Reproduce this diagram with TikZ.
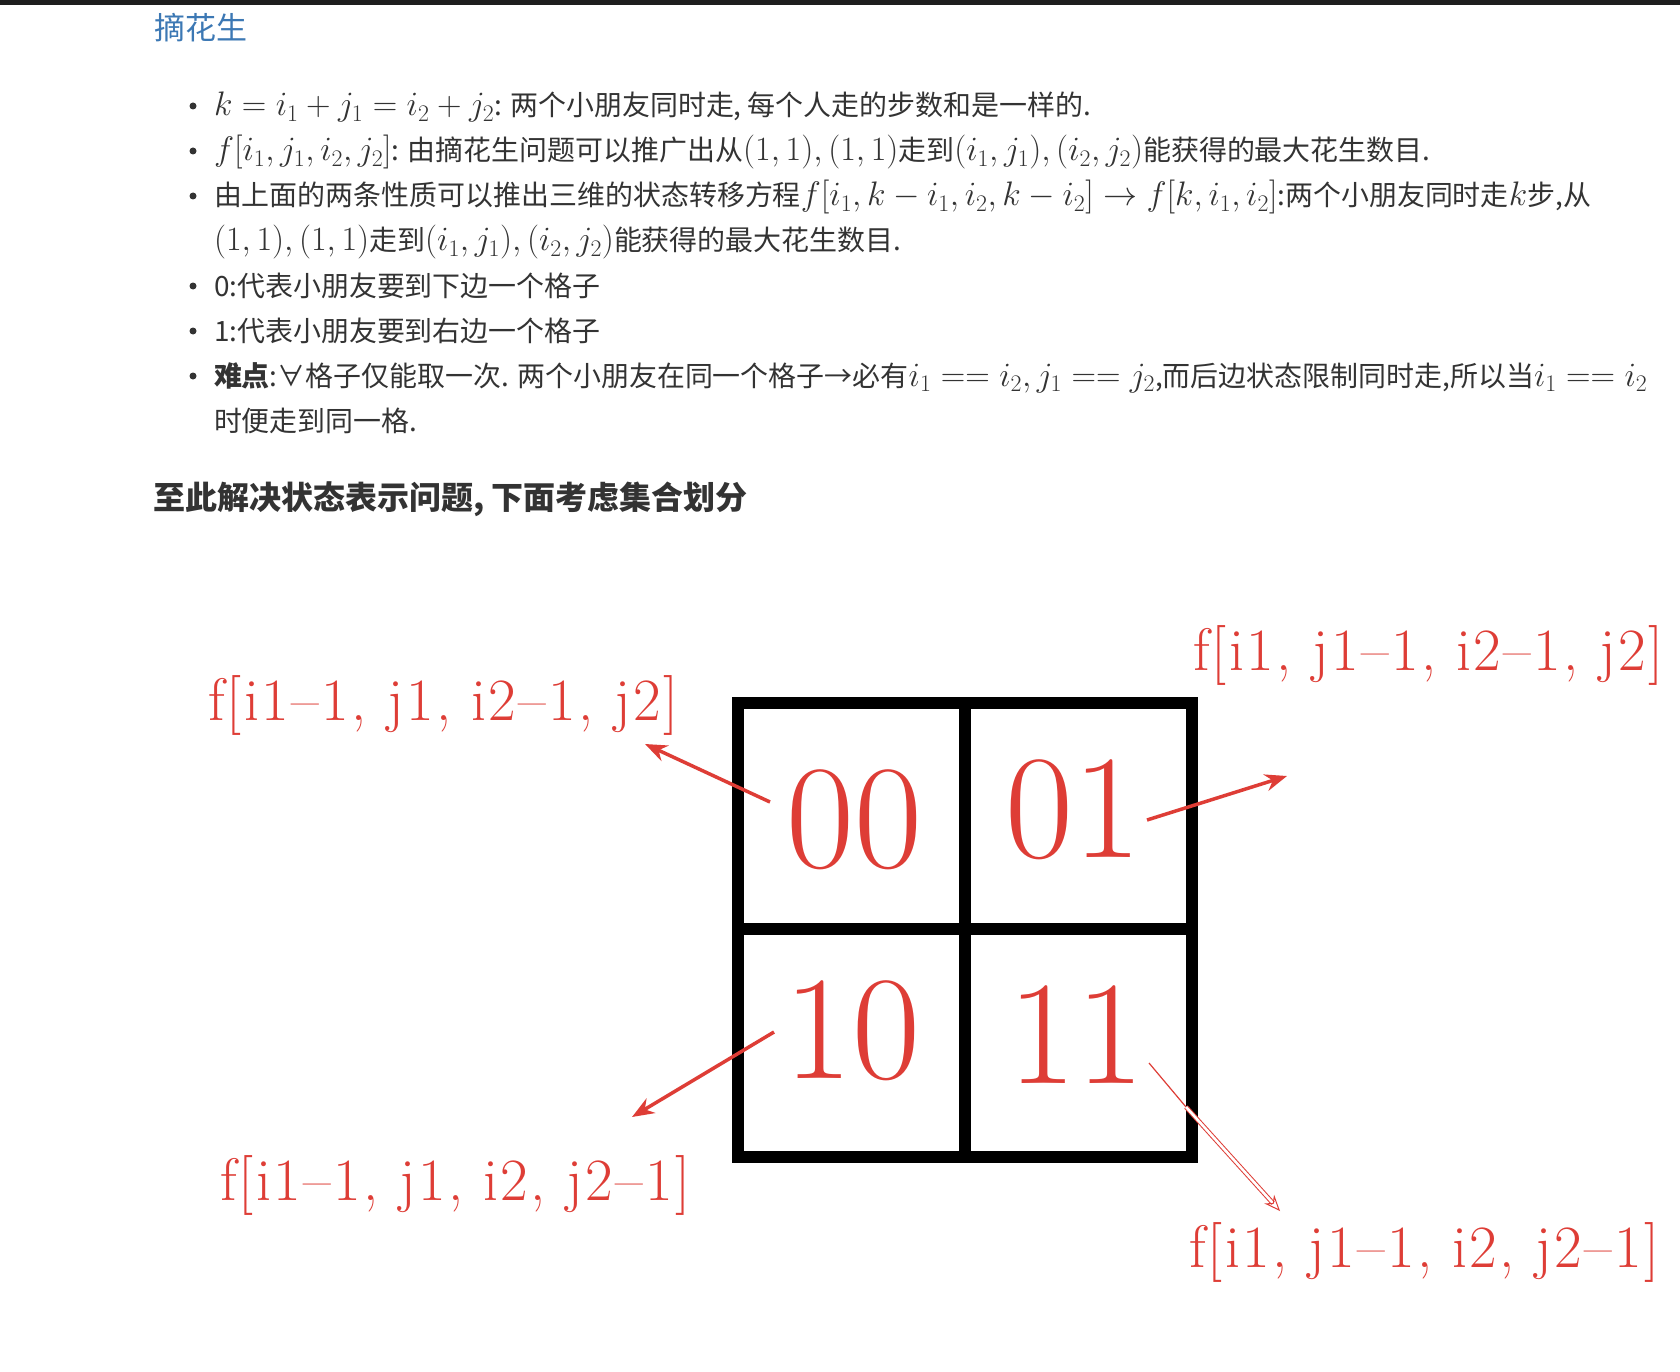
\RequirePackage{fix-cm}
\documentclass[tikz,border=0pt]{standalone}
\usepackage[no-math]{fontspec}
\newfontfamily\cjk[Scale=0.822]{Noto Sans CJK SC}
\newfontfamily\cjkn{Noto Sans CJK SC}
\newfontfamily\lblfont{lmroman17-regular}[Extension=.otf,LetterSpace=4]
\usetikzlibrary{arrows.meta}
\definecolor{txt}{HTML}{333333}
\definecolor{ttl}{HTML}{3C78B4}
\definecolor{rd}{HTML}{DE3D36}
\definecolor{barcol}{HTML}{1E1E1E}
\begin{document}
\begin{tikzpicture}[x=1pt,y=-1pt,every node/.style={inner sep=0pt,outer sep=0pt},
  body/.style={anchor=base west,text=txt,font=\fontsize{34}{34}\selectfont\cjk},
  bul/.style={circle,fill=txt,minimum size=7pt},
  lbl/.style={anchor=base west,text=rd,font=\fontsize{60}{60}\selectfont\lblfont},
  cellnum/.style={text=rd,font=\fontsize{148}{148}\selectfont},
  gridline/.style={line width=12pt,line cap=rect},
  redarrow/.style={draw=rd,line width=3.5pt,-{Stealth[length=22pt,width=17pt]}},
  thinline/.style={draw=rd,line width=1.2pt},
  hollowarrow/.style={draw=rd,line width=1pt,double=white,double distance=2.6pt,-{Stealth[open,length=16pt,width=13pt]}}]
\useasboundingbox[fill=white] (0,0) rectangle (1680,1372);
\fill[barcol] (0,0) rectangle (1680,5);
\node[anchor=base west,text=ttl,font=\fontsize{31}{31}\selectfont\cjkn] (title) at (154,40) {摘花生};
% bullets
\node[bul] (b1) at (193,106) {};
\node[bul] (b2) at (193,151) {};
\node[bul] (b3) at (193,196) {};
\node[bul] (b4) at (193,286) {};
\node[bul] (b5) at (193,331) {};
\node[bul] (b6) at (193,376) {};
% lines
\node[body] (t1) at (214,116) {$k = i_1 + j_1 = i_2 + j_2$: 两个小朋友同时走, 每个人走的步数和是一样的.};
\node[body] (t2) at (214,161) {$f[i_1,j_1,i_2,j_2]$: 由摘花生问题可以推广出从$(1,1),(1,1)$走到$(i_1,j_1),(i_2,j_2)$能获得的最大花生数目.};
\node[body] (t3) at (214,206) {由上面的两条性质可以推出三维的状态转移方程$f[i_1,k-i_1,i_2,k-i_2]\rightarrow f[k,i_1,i_2]$:两个小朋友同时走$k$步,从};
\node[body] (t3b) at (214,251) {$(1,1),(1,1)$走到$(i_1,j_1),(i_2,j_2)$能获得的最大花生数目.};
\node[body] (t4) at (214,296) {0:代表小朋友要到下边一个格子};
\node[body] (t5) at (214,341) {1:代表小朋友要到右边一个格子};
\node[body] (t6) at (214,386) {{\bfseries 难点}:∀格子仅能取一次. 两个小朋友在同一个格子→必有$i_1 == i_2,j_1 == j_2$,而后边状态限制同时走,所以当$i_1 == i_2$};
\node[body] (t6b) at (214,431) {时便走到同一格.};
\node[anchor=base west,text=txt,font=\fontsize{32}{32}\selectfont\cjkn\bfseries] (head) at (153,509) {至此解决状态表示问题, 下面考虑集合划分};
% grid
\draw[gridline] (737.5,702.5) rectangle (1192,1157);
\draw[gridline] (964.5,702.5) -- (964.5,1157);
\draw[gridline] (737.5,929) -- (1192,929);
% cell numbers
\node[cellnum] (n00) at (854,820) {00};
\node[cellnum] (n01) at (1073,810) {01};
\node[cellnum] (n10) at (852,1031) {10};
\node[cellnum] (n11) at (1076,1035) {11};
% labels
\node[lbl] (l00) at (208,720) {f[i1–1, j1, i2–1, j2]};
\node[lbl] (l01) at (1193,670) {f[i1, j1–1, i2–1, j2]};
\node[lbl] (l10) at (220,1200) {f[i1–1, j1, i2, j2–1]};
\node[lbl] (l11) at (1189,1267) {f[i1, j1–1, i2, j2–1]};
% arrows
\coordinate (s00) at (770,802);  \coordinate (e00) at (645,744);
\coordinate (s01) at (1147,820); \coordinate (e01) at (1287,776);
\coordinate (s10) at (774,1032); \coordinate (e10) at (632,1117);
\coordinate (s11) at (1149,1063);\coordinate (m11) at (1186,1107);
\coordinate (e11) at (1280,1211);
\draw[redarrow] (s00) -- (e00);
\draw[redarrow] (s01) -- (e01);
\draw[redarrow] (s10) -- (e10);
\draw[thinline] (s11) -- (m11);
\draw[hollowarrow] (m11) -- (e11);
\end{tikzpicture}
\end{document}
